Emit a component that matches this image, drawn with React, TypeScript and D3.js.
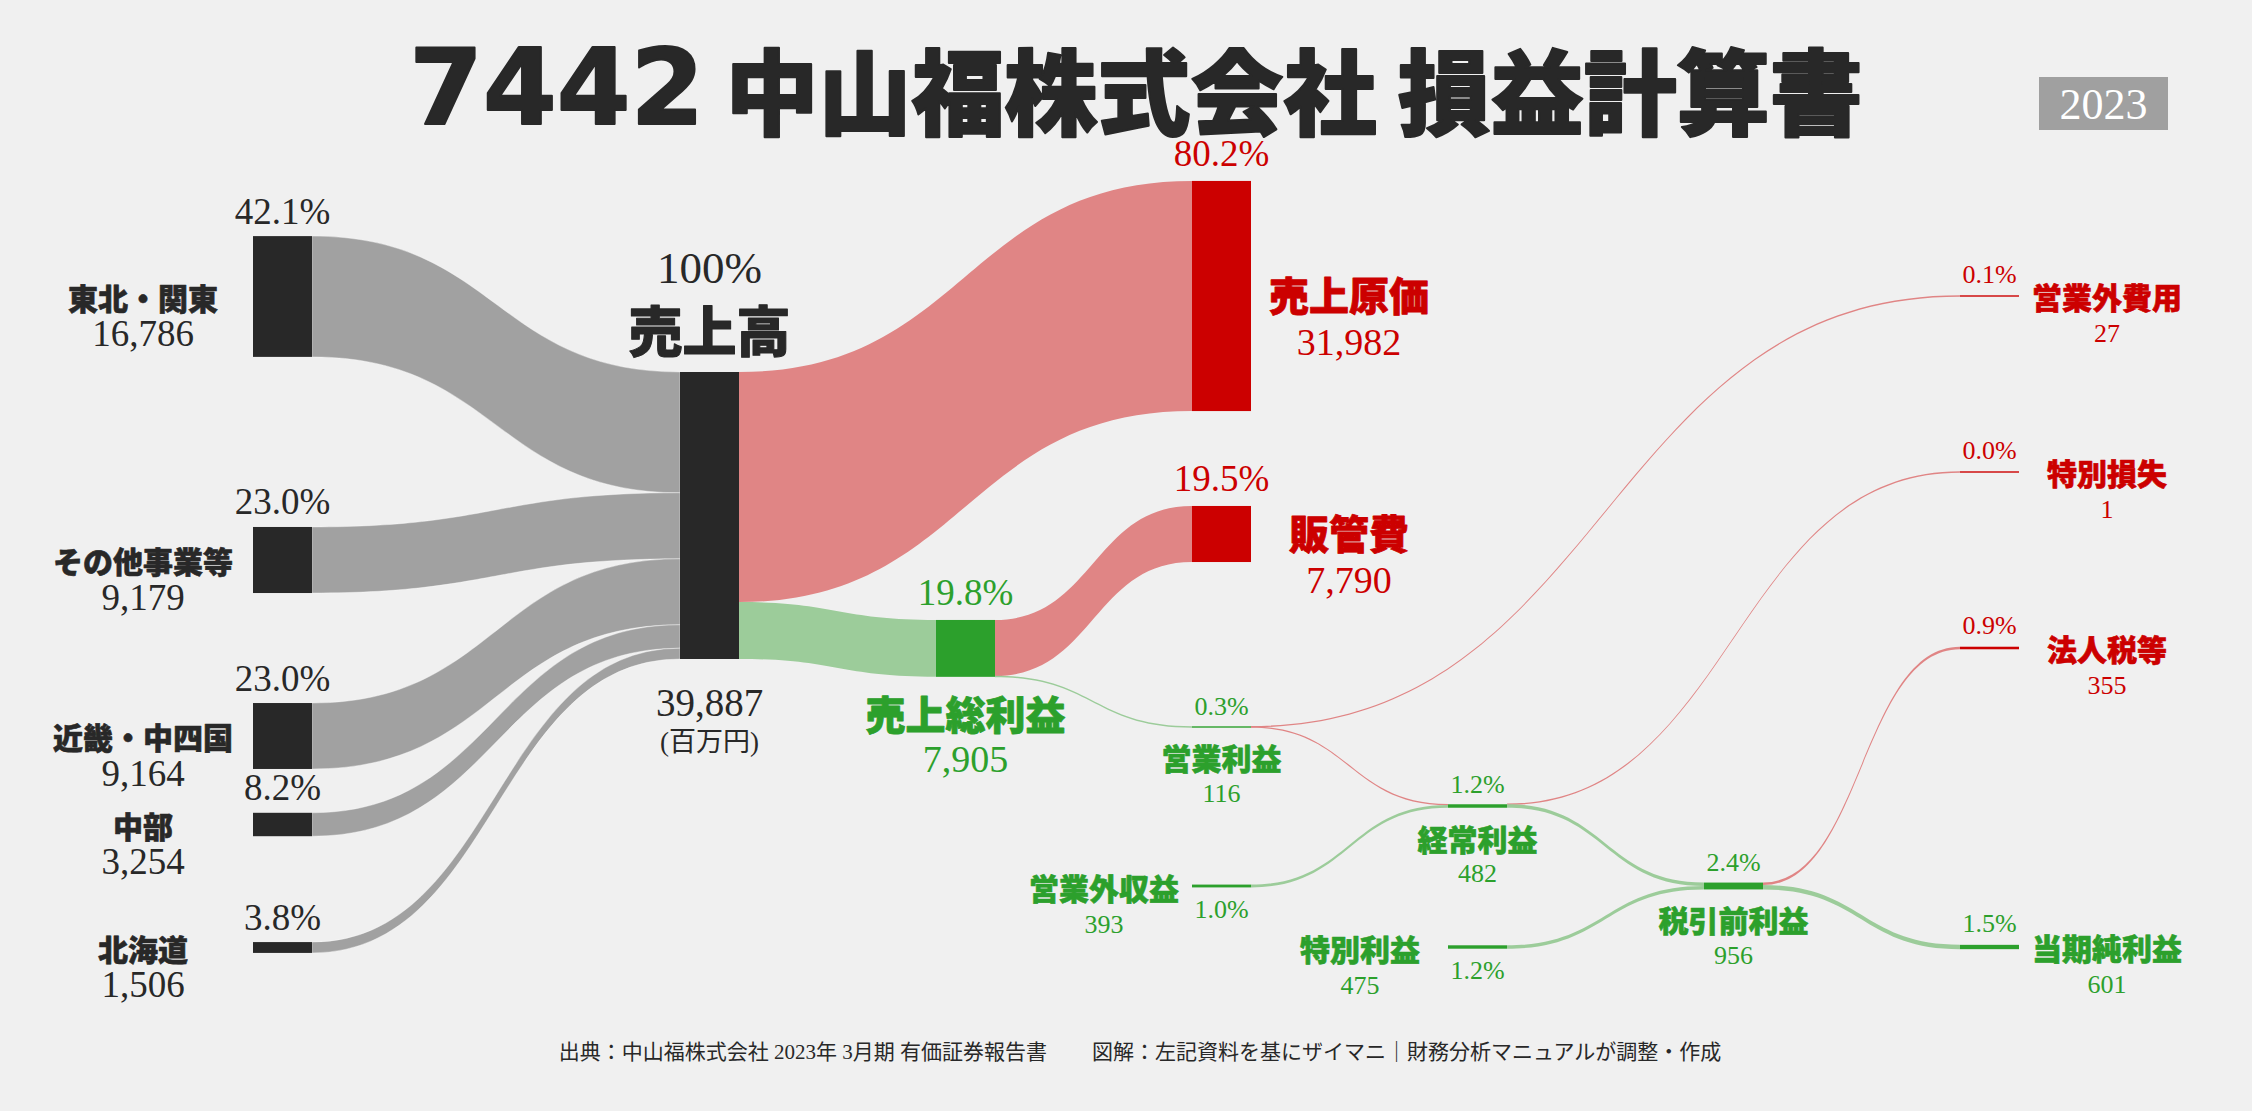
import React, { useEffect } from 'react';
import * as d3 from 'd3';

// ---------------- DATA ----------------
const TITLE_CODE = '7442';
const TITLE_TEXT = ' 中山福株式会社 損益計算書';
const YEAR = '2023';
const UNIT = '(百万円)';
const SOURCE_NOTE = '出典：中山福株式会社 2023年 3月期 有価証券報告書';
const CREDIT_NOTE = '図解：左記資料を基にザイマニ｜財務分析マニュアルが調整・作成';

const nodeNames = [
  '東北・関東', 'その他事業等', '近畿・中四国', '中部', '北海道',
  '売上高', '売上原価', '売上総利益', '販管費', '営業利益', '営業外収益',
  '経常利益', '特別利益', '税引前利益', '営業外費用', '特別損失', '法人税等', '当期純利益',
];
const nodeValues = [
  16786, 9179, 9164, 3254, 1506,
  39887, 31982, 7905, 7790, 116, 393,
  482, 475, 956, 27, 1, 355, 601,
];
const nodeTones = [
  'neutral', 'neutral', 'neutral', 'neutral', 'neutral',
  'neutral', 'cost', 'profit', 'cost', 'profit', 'profit',
  'profit', 'profit', 'profit', 'cost', 'cost', 'cost', 'profit',
];

const linkSources = [
  '東北・関東', 'その他事業等', '近畿・中四国', '中部', '北海道',
  '売上高', '売上高', '売上総利益', '売上総利益', '営業利益', '営業利益',
  '営業外収益', '経常利益', '経常利益', '特別利益', '税引前利益', '税引前利益',
];
const linkTargets = [
  '売上高', '売上高', '売上高', '売上高', '売上高',
  '売上原価', '売上総利益', '販管費', '営業利益', '営業外費用', '経常利益',
  '経常利益', '特別損失', '税引前利益', '税引前利益', '法人税等', '当期純利益',
];
const linkValues = [
  16786, 9179, 9164, 3254, 1506,
  31982, 7905, 7790, 116, 27, 89,
  393, 1, 481, 475, 355, 601,
];
const linkTones = [
  'neutral', 'neutral', 'neutral', 'neutral', 'neutral',
  'cost', 'profit', 'cost', 'profit', 'cost', 'cost',
  'profit', 'cost', 'profit', 'profit', 'cost', 'profit',
];

// ---------------- LAYOUT / STYLE ----------------
const W = 2252;
const H = 1111;
const NODE_W = 59;
const colLeft = [253, 680, 936, 1192, 1448, 1704, 1960];

type LabelKind = 'region' | 'top' | 'rightBig' | 'belowBig' | 'belowSmall' | 'leftSmall' | 'rightSmall';
const nodeLayout: Record<string, { col: number; cy: number; kind: LabelKind }> = {
  '東北・関東': { col: 0, cy: 296.5, kind: 'region' },
  'その他事業等': { col: 0, cy: 560, kind: 'region' },
  '近畿・中四国': { col: 0, cy: 736, kind: 'region' },
  '中部': { col: 0, cy: 824.5, kind: 'region' },
  '北海道': { col: 0, cy: 947.5, kind: 'region' },
  '売上高': { col: 1, cy: 515.5, kind: 'top' },
  '売上原価': { col: 3, cy: 296, kind: 'rightBig' },
  '売上総利益': { col: 2, cy: 648.4, kind: 'belowBig' },
  '販管費': { col: 3, cy: 534, kind: 'rightBig' },
  '営業利益': { col: 3, cy: 727, kind: 'belowSmall' },
  '営業外収益': { col: 3, cy: 886, kind: 'leftSmall' },
  '経常利益': { col: 4, cy: 806, kind: 'belowSmall' },
  '特別利益': { col: 4, cy: 947, kind: 'leftSmall' },
  '税引前利益': { col: 5, cy: 886, kind: 'belowSmall' },
  '営業外費用': { col: 6, cy: 296, kind: 'rightSmall' },
  '特別損失': { col: 6, cy: 472, kind: 'rightSmall' },
  '法人税等': { col: 6, cy: 648, kind: 'rightSmall' },
  '当期純利益': { col: 6, cy: 947, kind: 'rightSmall' },
};

const C = {
  bg: '#f0f0f0',
  dark: '#282828',
  red: '#cc0000',
  green: '#2ca02c',
  linkNeutral: '#a1a1a1',
  linkCost: '#e08585',
  linkProfit: '#9ccc9a',
  yearBox: '#a0a0a0',
};
const SANS = "'Noto Sans CJK JP', 'Noto Sans', sans-serif";
const SERIF = "'Liberation Serif', 'DejaVu Serif', 'Noto Sans CJK JP', serif";

const toneText = (t: string) => (t === 'cost' ? C.red : t === 'profit' ? C.green : C.dark);
const toneLink = (t: string) => (t === 'cost' ? C.linkCost : t === 'profit' ? C.linkProfit : C.linkNeutral);

const fmtNum = d3.format(',');
const fmtPct = d3.format('.1f');

function band(x0: number, y0: number, x1: number, y1: number, w: number) {
  const xm = (x0 + x1) / 2;
  const p = d3.path();
  p.moveTo(x0, y0);
  p.bezierCurveTo(xm, y0, xm, y1, x1, y1);
  p.lineTo(x1, y1 + w);
  p.bezierCurveTo(xm, y1 + w, xm, y0 + w, x0, y0 + w);
  p.closePath();
  return p.toString();
}

type TProps = {
  x: number; y: number; size: number; fill: string; bold?: boolean; family?: string;
  anchor?: 'start' | 'middle' | 'end'; children: React.ReactNode;
};
const T = ({ x, y, size, fill, bold, family, anchor = 'middle', children }: TProps) => (
  <text
    x={x}
    y={y}
    fontSize={size}
    fill={fill}
    fontWeight={bold ? 900 : 400}
    fontFamily={family || (bold ? SANS : SERIF)}
    textAnchor={anchor}
    dominantBaseline="central"
    stroke={bold ? fill : undefined}
    strokeWidth={bold ? size * 0.02 : undefined}
    strokeLinejoin="round"
  >
    {children}
  </text>
);

export default function App() {
  useEffect(() => {
    document.body.style.margin = '0';
    document.body.style.background = C.bg;
  }, []);

  const revenue = nodeValues[nodeNames.indexOf('売上高')];
  const hScale = d3.scaleLinear().domain([0, revenue]).range([0, 287]);

  const nodes = nodeNames.map((name, i) => {
    const lay = nodeLayout[name];
    const h = hScale(nodeValues[i]);
    const x = colLeft[lay.col];
    return {
      name, value: nodeValues[i], tone: nodeTones[i], kind: lay.kind,
      x, cx: x + NODE_W / 2, right: x + NODE_W, cy: lay.cy,
      top: lay.cy - h / 2, bottom: lay.cy + h / 2, h,
      outOff: 0, inOff: 0,
    };
  });
  const byName = new Map(nodes.map((n) => [n.name, n]));

  const links = linkSources.map((s, i) => {
    const src = byName.get(s)!;
    const tgt = byName.get(linkTargets[i])!;
    const w = hScale(linkValues[i]);
    const y0 = src.top + src.outOff;
    const y1 = tgt.top + tgt.inOff;
    src.outOff += w;
    tgt.inOff += w;
    const dw = Math.max(w, 1.4);
    const adj = (dw - w) / 2;
    return {
      key: s + '-' + linkTargets[i],
      d: band(src.right, y0 - adj, tgt.x, y1 - adj, dw),
      fill: toneLink(linkTones[i]),
      neutral: linkTones[i] === 'neutral',
    };
  });

  const labels: React.ReactNode[] = [];
  nodes.forEach((n) => {
    const col = toneText(n.tone);
    const pct = n.value === revenue ? '100%' : fmtPct((n.value / revenue) * 100) + '%';
    const num = fmtNum(n.value);
    const k = n.name;
    switch (n.kind) {
      case 'region':
        labels.push(
          <T key={k + 'p'} x={n.cx} y={n.top - 25} size={37} fill={col}>{pct}</T>,
          <T key={k + 'n'} x={n.x - 110} y={n.cy} size={30} fill={col} bold>{n.name}</T>,
          <T key={k + 'v'} x={n.x - 110} y={n.cy + 37} size={37} fill={col}>{num}</T>,
        );
        break;
      case 'top':
        labels.push(
          <T key={k + 'p'} x={n.cx} y={n.top - 104} size={45} fill={col}>{pct}</T>,
          <T key={k + 'n'} x={n.cx} y={n.top - 44} size={54} fill={col} bold>{n.name}</T>,
          <T key={k + 'v'} x={n.cx} y={n.bottom + 43} size={39} fill={col}>{num}</T>,
          <T key={k + 'u'} x={n.cx} y={n.bottom + 83} size={27} fill={col}>{UNIT}</T>,
        );
        break;
      case 'rightBig':
        labels.push(
          <T key={k + 'p'} x={n.cx} y={n.top - 27} size={37} fill={col}>{pct}</T>,
          <T key={k + 'n'} x={n.right + 98} y={n.cy - 2} size={40} fill={col} bold>{n.name}</T>,
          <T key={k + 'v'} x={n.right + 98} y={n.cy + 46} size={38} fill={col}>{num}</T>,
        );
        break;
      case 'belowBig':
        labels.push(
          <T key={k + 'p'} x={n.cx} y={n.top - 27} size={37} fill={col}>{pct}</T>,
          <T key={k + 'n'} x={n.cx} y={n.bottom + 36} size={40} fill={col} bold>{n.name}</T>,
          <T key={k + 'v'} x={n.cx} y={n.bottom + 82} size={38} fill={col}>{num}</T>,
        );
        break;
      case 'belowSmall':
        labels.push(
          <T key={k + 'p'} x={n.cx} y={n.top - 20} size={26} fill={col}>{pct}</T>,
          <T key={k + 'n'} x={n.cx} y={n.bottom + 30} size={30} fill={col} bold>{n.name}</T>,
          <T key={k + 'v'} x={n.cx} y={n.bottom + 66} size={26} fill={col}>{num}</T>,
        );
        break;
      case 'leftSmall':
        labels.push(
          <T key={k + 'p'} x={n.cx} y={n.bottom + 22} size={26} fill={col}>{pct}</T>,
          <T key={k + 'n'} x={n.x - 88} y={n.cy + 1} size={30} fill={col} bold>{n.name}</T>,
          <T key={k + 'v'} x={n.x - 88} y={n.cy + 38} size={26} fill={col}>{num}</T>,
        );
        break;
      case 'rightSmall':
        labels.push(
          <T key={k + 'p'} x={n.cx} y={n.top - 21} size={26} fill={col}>{pct}</T>,
          <T key={k + 'n'} x={n.right + 88} y={n.cy} size={30} fill={col} bold>{n.name}</T>,
          <T key={k + 'v'} x={n.right + 88} y={n.cy + 37} size={26} fill={col}>{num}</T>,
        );
        break;
    }
  });

  return (
    <svg
      width={W}
      height={H}
      viewBox={`0 0 ${W} ${H}`}
      style={{ position: 'absolute', left: 0, top: 0, display: 'block', background: C.bg }}
    >
      <rect x={0} y={0} width={W} height={H} fill={C.bg} />

      {/* title */}
      <text
        x={1136}
        y={87}
        textAnchor="middle"
        dominantBaseline="central"
        fill={C.dark}
        stroke={C.dark}
        strokeWidth={2}
        strokeLinejoin="round"
      >
        <tspan fontFamily="'DejaVu Sans', sans-serif" fontWeight={700} fontSize={106}>{TITLE_CODE}</tspan>
        <tspan fontFamily={SANS} fontWeight={900} fontSize={93}>{TITLE_TEXT}</tspan>
      </text>
      <rect x={2039} y={77} width={129} height={53} fill={C.yearBox} />
      <T x={2103.5} y={104} size={44} fill="#ffffff">{YEAR}</T>

      {/* links */}
      <g>
        {links.map((l) => (
          <path
            key={l.key}
            d={l.d}
            fill={l.fill}
            stroke={l.neutral ? 'rgba(255,255,255,0.45)' : 'none'}
            strokeWidth={l.neutral ? 0.8 : 0}
          />
        ))}
      </g>

      {/* nodes */}
      <g>
        {nodes.map((n) => {
          const dh = Math.max(n.h, 1.4);
          return (
            <rect
              key={n.name}
              x={n.x}
              y={n.cy - dh / 2}
              width={NODE_W}
              height={dh}
              fill={n.tone === 'cost' ? C.red : n.tone === 'profit' ? C.green : C.dark}
            />
          );
        })}
      </g>

      {/* labels */}
      <g>{labels}</g>

      {/* footer */}
      <text x={1047} y={1052} fontSize={21} fill={C.dark} fontFamily={SERIF} textAnchor="end" dominantBaseline="central">
        {SOURCE_NOTE}
      </text>
      <text x={1092} y={1052} fontSize={21} fill={C.dark} fontFamily={SERIF} textAnchor="start" dominantBaseline="central">
        {CREDIT_NOTE}
      </text>
    </svg>
  );
}
